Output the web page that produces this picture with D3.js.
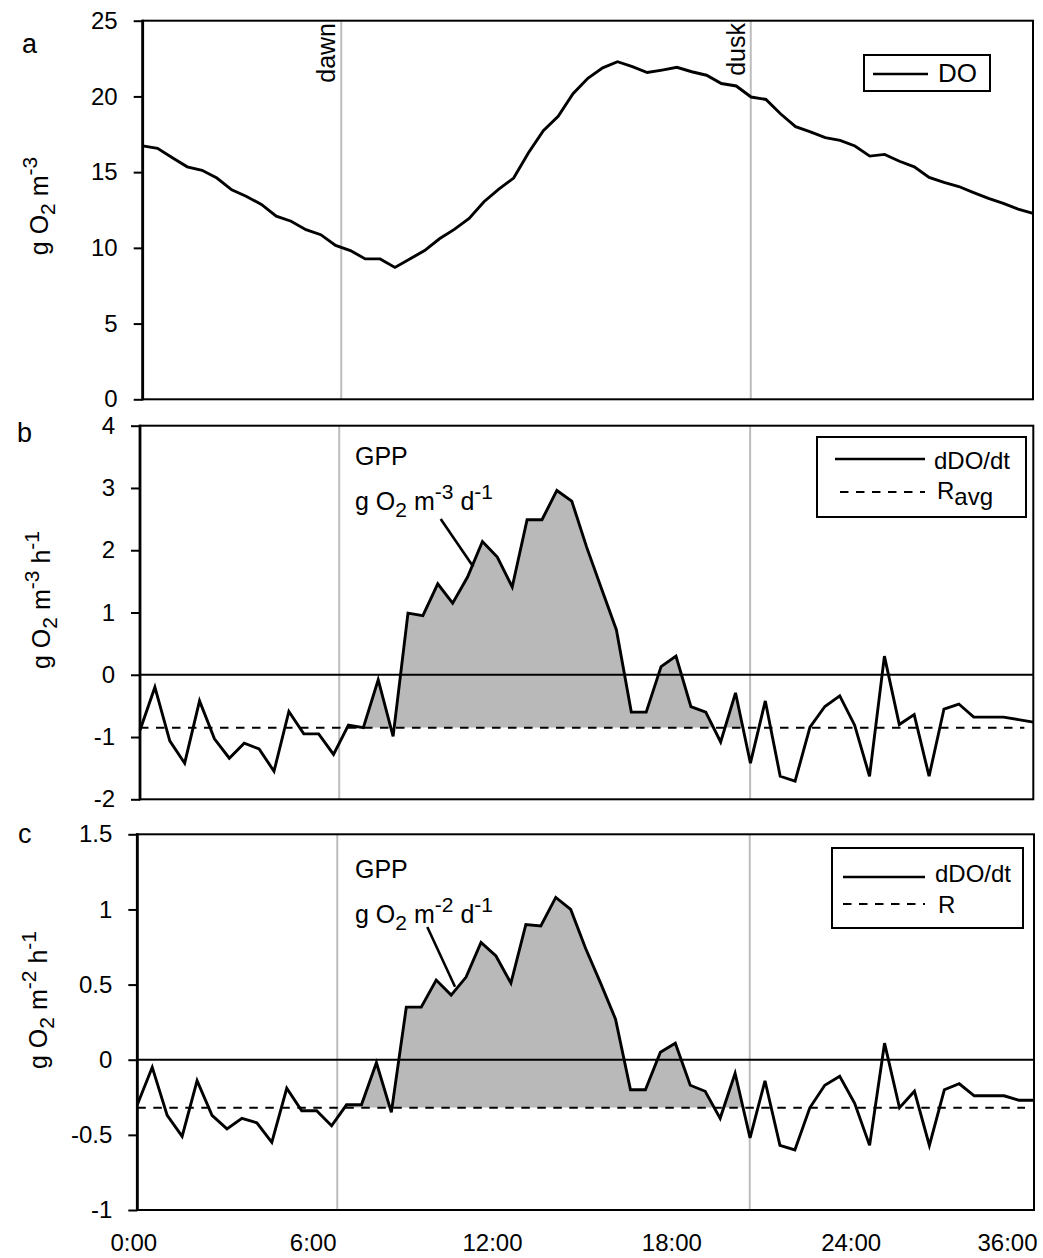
<!DOCTYPE html>
<html><head><meta charset="utf-8">
<script src="https://cdn.jsdelivr.net/npm/d3@7"></script>
<style>body{margin:0;background:#fff}</style>
</head><body><svg id="chart" width="1043" height="1258" xmlns="http://www.w3.org/2000/svg"></svg>
<script>
// ---------- DATA ----------
const hours = d3.range(0, 30.01, 0.5); // half-hourly sampling times (h)
const doValues = [16.73,16.57,15.95,15.35,15.12,14.61,13.83,13.39,12.87,12.09,
  11.76,11.2,10.87,10.16,9.82,9.27,9.27,8.71,9.27,9.82,
  10.6,11.22,11.94,13.05,13.88,14.61,16.28,17.73,18.69,20.18,
  21.2,21.89,22.29,21.96,21.58,21.74,21.92,21.63,21.4,20.85,
  20.69,19.96,19.8,18.84,18.0,17.66,17.28,17.1,16.73,16.06,
  16.17,15.72,15.35,14.65,14.32,14.05,13.65,13.27,12.94,12.56,12.27];
const dDOdtVol = [-0.89,-0.20,-1.06,-1.42,-0.42,-1.03,-1.34,-1.10,-1.19,-1.55,
  -0.59,-0.95,-0.95,-1.28,-0.81,-0.85,-0.08,-0.99,0.99,0.95,
  1.46,1.15,1.57,2.14,1.89,1.41,2.49,2.49,2.96,2.79,
  2.05,1.38,0.72,-0.60,-0.60,0.13,0.30,-0.51,-0.60,-1.08,
  -0.29,-1.42,-0.42,-1.63,-1.71,-0.84,-0.51,-0.34,-0.81,-1.63,
  0.30,-0.80,-0.64,-1.63,-0.55,-0.47,-0.68,-0.68,-0.68,-0.72,-0.76];
const dDOdtArea = [-0.30,-0.05,-0.37,-0.51,-0.14,-0.37,-0.46,-0.39,-0.42,-0.55,
  -0.19,-0.34,-0.34,-0.44,-0.30,-0.30,-0.02,-0.35,0.35,0.35,
  0.53,0.43,0.55,0.78,0.69,0.51,0.90,0.89,1.08,1.00,
  0.74,0.51,0.27,-0.20,-0.20,0.05,0.11,-0.17,-0.21,-0.39,
  -0.09,-0.52,-0.14,-0.57,-0.60,-0.32,-0.17,-0.11,-0.29,-0.57,
  0.11,-0.32,-0.21,-0.57,-0.20,-0.16,-0.24,-0.24,-0.24,-0.27,-0.27];
const rAvgVol = -0.85;     // g O2 m-3 h-1
const rArea = -0.32;       // g O2 m-2 h-1
const rEndHour = 29.7;
const dawnHour = 6.69;
const duskHour = 20.49;
const xTickHours = [0, 6, 12, 18, 24, 30];
const xTickLabels = ["0:00", "6:00", "12:00", "18:00", "24:00", "36:00"];
const yTicksA = [0, 5, 10, 15, 20, 25];
const yTicksB = [-2, -1, 0, 1, 2, 3, 4];
const yTicksC = [-1, -0.5, 0, 0.5, 1, 1.5];

// ---------- DRAW ----------
const FONT = '"Liberation Sans", Arial, Helvetica, sans-serif';
const svg = d3.select("#chart").attr("font-family", FONT);
const CURVE_W = 2.9;

function makePanel(cfg) {
  const g = svg.append("g");
  const x = d3.scaleLinear().domain([0, 30]).range([cfg.left, cfg.right]);
  const y = d3.scaleLinear().domain(cfg.domain).range([cfg.bottom, cfg.top]);
  [dawnHour, duskHour].forEach(h => {
    g.append("line").attr("x1", x(h)).attr("x2", x(h))
      .attr("y1", cfg.top).attr("y2", cfg.bottom)
      .attr("stroke", "#bdbdbd").attr("stroke-width", 2);
  });
  const ax = d3.axisLeft(y).tickValues(cfg.ticks).tickSize(9).tickPadding(16)
    .tickFormat(d => String(d));
  const ag = g.append("g").attr("transform", `translate(${cfg.left},0)`).call(ax);
  ag.attr("font-family", FONT).attr("font-size", 24);
  ag.select(".domain").remove();
  ag.selectAll(".tick line").attr("stroke", "#000").attr("stroke-width", 2);
  ag.selectAll(".tick text").attr("fill", "#000");
  return { g, x, y, cfg };
}

function frame(p) {
  const c = p.cfg;
  p.g.append("rect").attr("x", c.left).attr("y", c.top)
    .attr("width", c.right - c.left).attr("height", c.bottom - c.top)
    .attr("fill", "none").attr("stroke", "#000").attr("stroke-width", 2);
  p.g.append("line").attr("x1", c.left).attr("x2", c.left).attr("y1", c.top - 1).attr("y2", c.bottom + 1)
    .attr("stroke", "#000").attr("stroke-width", 2.8);
}

function addParts(t, parts) {
  let shift = 0;
  parts.forEach(pt => {
    const target = pt.s === "sub" ? 7 : pt.s === "sup" ? -11 : 0;
    t.append("tspan").attr("dy", target - shift)
      .attr("font-size", pt.s ? 21 : null).text(pt.t);
    shift = target;
  });
}

function rotTitle(x, yc, parts) {
  const t = svg.append("text").attr("transform", `translate(${x},${yc}) rotate(-90)`)
    .attr("text-anchor", "middle").attr("font-size", 25).attr("fill", "#000");
  addParts(t, parts);
}

function rateChart(cfg, values, rVal, rLabel, gppUnit, leg) {
  const p = makePanel(cfg);
  const { g, x, y } = p;
  const data = hours.map((h, i) => ({ t: h, v: values[i] }));
  const cid = "clip" + cfg.name;
  svg.append("clipPath").attr("id", cid).append("rect")
    .attr("x", x(dawnHour)).attr("width", x(duskHour) - x(dawnHour))
    .attr("y", cfg.top).attr("height", y(rVal) - cfg.top);
  g.append("path").datum(data)
    .attr("d", d3.area().x(d => x(d.t)).y0(y(rVal)).y1(d => y(d.v)))
    .attr("fill", "#b9b9b9").attr("clip-path", `url(#${cid})`);
  g.append("line").attr("x1", x(0)).attr("x2", x(rEndHour))
    .attr("y1", y(rVal)).attr("y2", y(rVal))
    .attr("stroke", "#000").attr("stroke-width", 2).attr("stroke-dasharray", "8.5,7.5");
  g.append("line").attr("x1", cfg.left).attr("x2", cfg.right)
    .attr("y1", y(0)).attr("y2", y(0)).attr("stroke", "#000").attr("stroke-width", 2);
  g.append("path").datum(data)
    .attr("d", d3.line().x(d => x(d.t)).y(d => y(d.v)))
    .attr("fill", "none").attr("stroke", "#000").attr("stroke-width", CURVE_W);
  frame(p);
  g.append("text").attr("x", 355).attr("y", cfg.gppY).attr("font-size", 25).text("GPP");
  const t2 = g.append("text").attr("x", 355).attr("y", cfg.gppY + 45).attr("font-size", 25);
  addParts(t2, [{ t: "g O" }, { t: "2", s: "sub" }, { t: " m" }, { t: gppUnit, s: "sup" }, { t: " d" }, { t: "-1", s: "sup" }]);
  g.append("line").attr("x1", cfg.lead[0]).attr("y1", cfg.lead[1])
    .attr("x2", cfg.lead[2]).attr("y2", cfg.lead[3]).attr("stroke", "#000").attr("stroke-width", 2.6);
  g.append("rect").attr("x", leg.x).attr("y", leg.y).attr("width", leg.w).attr("height", leg.h)
    .attr("fill", "#fff").attr("stroke", "#000").attr("stroke-width", 2);
  g.append("line").attr("x1", leg.l1[0]).attr("x2", leg.l1[1]).attr("y1", leg.l1[2]).attr("y2", leg.l1[2])
    .attr("stroke", "#000").attr("stroke-width", 2.4);
  g.append("line").attr("x1", leg.l2[0]).attr("x2", leg.l2[1]).attr("y1", leg.l2[2]).attr("y2", leg.l2[2])
    .attr("stroke", "#000").attr("stroke-width", 2).attr("stroke-dasharray", "8.5,7.5");
  g.append("text").attr("x", leg.tx).attr("y", leg.t1y).attr("font-size", 24).text("dDO/dt");
  const rt = g.append("text").attr("x", leg.tx + 3).attr("y", leg.t2y).attr("font-size", 24);
  rt.append("tspan").text(rLabel[0]);
  if (rLabel[1]) rt.append("tspan").attr("dy", 6).text(rLabel[1]);
  return p;
}

// Panel a
const pa = makePanel({ name: "a", left: 142.7, right: 1033, top: 20.7, bottom: 399.3, domain: [0, 25], ticks: yTicksA });
pa.g.append("path").datum(hours.map((h, i) => ({ t: h, v: doValues[i] })))
  .attr("d", d3.line().x(d => pa.x(d.t)).y(d => pa.y(d.v)))
  .attr("fill", "none").attr("stroke", "#000").attr("stroke-width", CURVE_W);
frame(pa);
[["dawn", dawnHour], ["dusk", duskHour]].forEach(([lab, h]) => {
  pa.g.append("text").attr("transform", `translate(${pa.x(h) - 6},23) rotate(-90)`)
    .attr("text-anchor", "end").attr("font-size", 25).text(lab);
});
pa.g.append("rect").attr("x", 864).attr("y", 55).attr("width", 126).attr("height", 36)
  .attr("fill", "#fff").attr("stroke", "#000").attr("stroke-width", 2);
pa.g.append("line").attr("x1", 873).attr("x2", 928).attr("y1", 74).attr("y2", 74)
  .attr("stroke", "#000").attr("stroke-width", 2.4);
pa.g.append("text").attr("x", 938).attr("y", 82).attr("font-size", 26).text("DO");

// Panel b
const pb = rateChart({ name: "b", left: 140, right: 1033.3, top: 425.7, bottom: 799.3, domain: [-2, 4], ticks: yTicksB,
    gppY: 465, lead: [440.7, 519, 473.3, 566.7] },
  dDOdtVol, rAvgVol, ["R", "avg"], "-3",
  { x: 817, y: 437, w: 209, h: 80, l1: [835, 925, 459], l2: [840, 925, 492], tx: 934, t1y: 469, t2y: 499 });

// Panel c
const pc = rateChart({ name: "c", left: 137.3, right: 1034, top: 834.3, bottom: 1210, domain: [-1, 1.5], ticks: yTicksC,
    gppY: 878, lead: [427.3, 927, 455, 986.7] },
  dDOdtArea, rArea, ["R"], "-2",
  { x: 832, y: 848, w: 191, h: 80, l1: [843, 925, 877], l2: [843, 925, 904], tx: 935, t1y: 882, t2y: 913 });

// x axis (bottom of panel c)
const xa = d3.axisBottom(pc.x).tickValues(xTickHours).tickSize(0).tickPadding(24)
  .tickFormat((d, i) => xTickLabels[i]);
const xg = svg.append("g").attr("transform", `translate(0,${pc.cfg.bottom})`).call(xa);
xg.attr("font-family", FONT).attr("font-size", 24);
xg.select(".domain").remove();
xg.selectAll(".tick text").attr("fill", "#000").attr("dx", -4);
xg.selectAll(".tick text").filter((d, i) => i === xTickHours.length - 1)
  .attr("text-anchor", "end").attr("dx", 3);

// y titles
rotTitle(48, 206, [{ t: "g O" }, { t: "2", s: "sub" }, { t: " m" }, { t: "-3", s: "sup" }]);
rotTitle(50, 600, [{ t: "g O" }, { t: "2", s: "sub" }, { t: " m" }, { t: "-3", s: "sup" }, { t: " h" }, { t: "-1", s: "sup" }]);
rotTitle(47, 1000, [{ t: "g O" }, { t: "2", s: "sub" }, { t: " m" }, { t: "-2", s: "sup" }, { t: " h" }, { t: "-1", s: "sup" }]);

// panel letters
[["a", 22, 53], ["b", 17, 442], ["c", 18, 843]].forEach(([l, xx, yy]) => {
  svg.append("text").attr("x", xx).attr("y", yy).attr("font-size", 27).text(l);
});
</script></body></html>
